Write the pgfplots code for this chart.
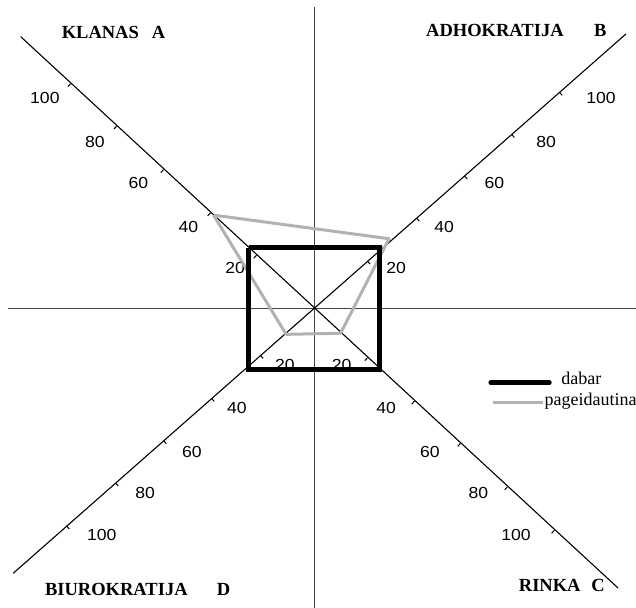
\documentclass[border=0pt]{standalone}
\usepackage{pgfplots}
\pgfplotsset{compat=1.18}
\usepackage{fontspec}
\setmainfont{Liberation Serif}
\newfontfamily\arial{Liberation Sans}
\usepackage{graphicx}
\definecolor{axgray}{RGB}{70,70,70}
\definecolor{prefgray}{RGB}{178,178,178}
\tikzset{
  tl/.style={font=\arial\fontsize{16}{18}\selectfont, inner sep=0pt},
  cl/.style={font=\bfseries\fontsize{18.5}{20}\selectfont, inner sep=0pt, anchor=west},
  lg/.style={font=\fontsize{18}{20}\selectfont, inner sep=0pt, anchor=base west}}
\begin{document}
\begin{tikzpicture}
\begin{axis}[x=2.42pt, y=2.25pt, xmin=-129.75, xmax=133.06, ymin=-133.1, ymax=137.1,
  hide axis, clip=false, unbounded coords=jump]
% cross lines
\addplot[axgray, line width=0.9pt] coordinates {(-126.4,0) (133.06,0)};
\addplot[axgray, line width=0.9pt] coordinates {(0,134.0) (0,-133.1)};
% diagonals
\addplot[black, line width=1.1pt] coordinates {(-121.2,120.8) (125.6,-124.2)};
\addplot[black, line width=1.1pt] coordinates {(-124.3,-117.7) (128.9,122.0)};
% tick marks
\addplot[black, line width=1pt] coordinates {
(-23.8,23.6) (-24.9,22.3) (nan,nan)
(-42.8,42.5) (-43.9,41.2) (nan,nan)
(-62.2,61.7) (-63.3,60.4) (nan,nan)
(-81.6,81.0) (-82.7,79.7) (nan,nan)
(-100.6,99.9) (-101.7,98.6) (nan,nan)
(22.1,21.0) (23.2,19.7) (nan,nan)
(42.4,40.1) (43.5,38.8) (nan,nan)
(62.2,58.9) (63.3,57.6) (nan,nan)
(81.7,77.3) (82.8,76.0) (nan,nan)
(101.5,96.0) (102.6,94.7) (nan,nan)
(-22.1,-20.9) (-21.0,-22.2) (nan,nan)
(-42.3,-40.0) (-41.2,-41.3) (nan,nan)
(-62.1,-58.8) (-61.0,-60.1) (nan,nan)
(-82.0,-77.6) (-80.9,-78.9) (nan,nan)
(-102.2,-96.7) (-101.1,-98.0) (nan,nan)
(22.1,-21.9) (21.0,-23.2) (nan,nan)
(41.5,-41.2) (40.4,-42.5) (nan,nan)
(60.5,-60.0) (59.4,-61.3) (nan,nan)
(79.9,-79.3) (78.8,-80.6) (nan,nan)
(99.3,-98.6) (98.2,-99.9)
};
% tick labels
\node[tl] at (axis cs:-111.2,93.6) {\scalebox{1.1}[1]{100}};
\node[tl] at (axis cs:-90.5,74.1) {\scalebox{1.1}[1]{80}};
\node[tl] at (axis cs:-72.6,55.6) {\scalebox{1.1}[1]{60}};
\node[tl] at (axis cs:-51.9,36.4) {\scalebox{1.1}[1]{40}};
\node[tl] at (axis cs:-32.6,17.9) {\scalebox{1.1}[1]{20}};
\node[tl] at (axis cs:118.6,93.6) {\scalebox{1.1}[1]{100}};
\node[tl] at (axis cs:95.9,74.1) {\scalebox{1.1}[1]{80}};
\node[tl] at (axis cs:74.5,55.6) {\scalebox{1.1}[1]{60}};
\node[tl] at (axis cs:53.8,36.4) {\scalebox{1.1}[1]{40}};
\node[tl] at (axis cs:33.9,17.9) {\scalebox{1.1}[1]{20}};
\node[tl] at (axis cs:-87.7,-100.7) {\scalebox{1.1}[1]{100}};
\node[tl] at (axis cs:-69.8,-82.1) {\scalebox{1.1}[1]{80}};
\node[tl] at (axis cs:-50.5,-63.6) {\scalebox{1.1}[1]{60}};
\node[tl] at (axis cs:-31.9,-44.4) {\scalebox{1.1}[1]{40}};
\node[tl] at (axis cs:-12.0,-25.1) {\scalebox{1.1}[1]{20}};
\node[tl] at (axis cs:83.5,-100.7) {\scalebox{1.1}[1]{100}};
\node[tl] at (axis cs:67.9,-82.1) {\scalebox{1.1}[1]{80}};
\node[tl] at (axis cs:47.9,-63.6) {\scalebox{1.1}[1]{60}};
\node[tl] at (axis cs:29.8,-44.4) {\scalebox{1.1}[1]{40}};
\node[tl] at (axis cs:11.4,-25.1) {\scalebox{1.1}[1]{20}};
% pageidautina (A, B, C, D)
\addplot[prefgray, line width=3pt, line join=round] coordinates {(-41.5,41.5) (31,31) (11,-11) (-11.5,-11.5) (-41.5,41.5)};
% dabar (A, B, C, D)
\addplot[black, line width=4.8pt, line join=miter] coordinates {(-27,27) (27,27) (27,-27) (-27,-27) (-27,27)};
% legend
\addplot[black, line width=5pt, line cap=round] coordinates {(73.1,-33.0) (97.2,-33.0)};
\addplot[prefgray, line width=3pt] coordinates {(73.8,-41.9) (94.5,-41.9)};
\node[lg] at (axis cs:102.1,-34.0) {dabar};
\node[lg] at (axis cs:95.2,-43.3) {pageidautina};
% corner labels
\node[cl] at (axis cs:-104.3,122.6) {KLANAS};
\node[cl] at (axis cs:-67.1,122.6) {A};
\node[cl] at (axis cs:46.3,123.5) {ADHOKRATIJA};
\node[cl] at (axis cs:115.7,123.5) {B};
\node[cl] at (axis cs:-111.2,-124.7) {BIUROKRATIJA};
\node[cl] at (axis cs:-40.2,-124.7) {D};
\node[cl] at (axis cs:84.6,-122.9) {RINKA};
\node[cl] at (axis cs:114.5,-122.9) {C};
\end{axis}
\pgfresetboundingbox
\path[use as bounding box] (current axis.south west) rectangle (current axis.north east);
\end{tikzpicture}
\end{document}
